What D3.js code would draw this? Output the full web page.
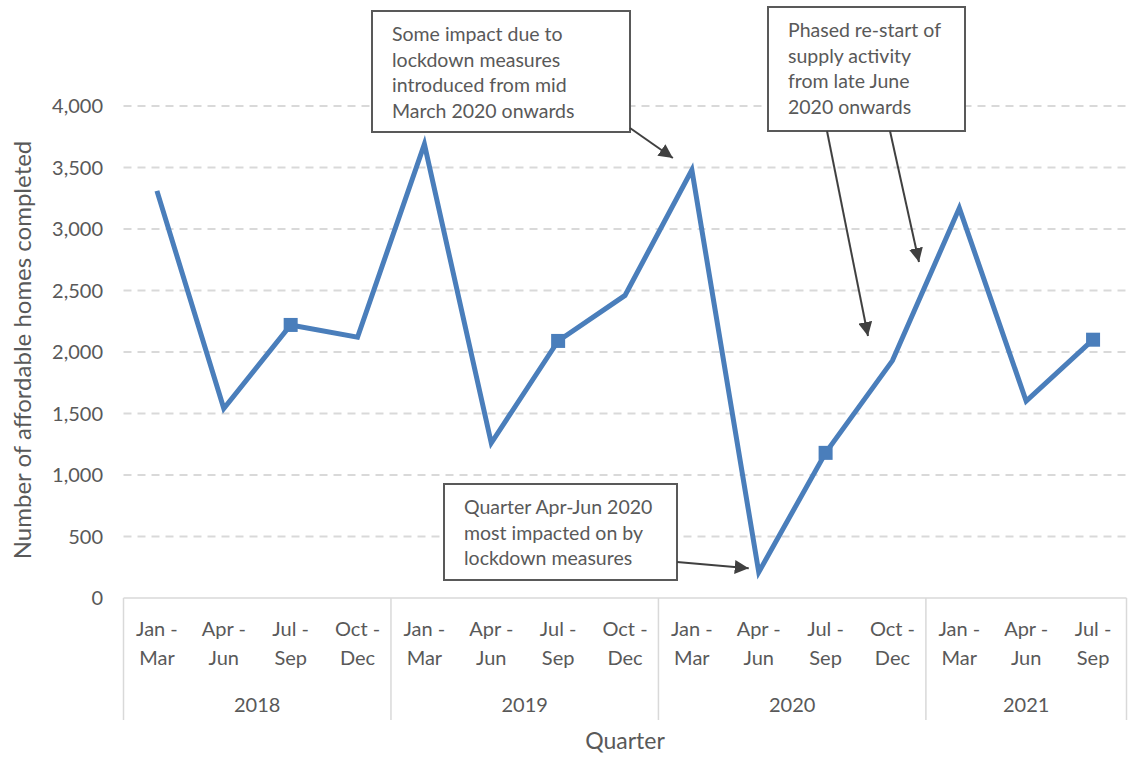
<!DOCTYPE html>
<html>
<head>
<meta charset="utf-8">
<title>Affordable homes completed</title>
<script src="https://d3js.org/d3.v7.min.js"></script>
<style>
  body { margin: 0; background: #fff; }
  svg text { font-family: Lato, "Open Sans", sans-serif; fill: #595959; }
</style>
</head>
<body>
<div id="root"></div>
<script>
// data
var quarters = ["Jan - Mar", "Apr - Jun", "Jul - Sep", "Oct - Dec",
                "Jan - Mar", "Apr - Jun", "Jul - Sep", "Oct - Dec",
                "Jan - Mar", "Apr - Jun", "Jul - Sep", "Oct - Dec",
                "Jan - Mar", "Apr - Jun", "Jul - Sep"];
var years = ["2018", "2019", "2020", "2021"];
var quartersPerYear = [4, 4, 4, 3];
var completed = [3310, 1540, 2220, 2120, 3690, 1260, 2090, 2460,
                 3480, 210, 1180, 1930, 3170, 1600, 2100];
var markerIdx = [2, 6, 10, 14];
var yTicks = [0, 500, 1000, 1500, 2000, 2500, 3000, 3500, 4000];

var width = 1128, height = 764;
var plotLeft = 123.5, plotRight = 1126.5, plotTop = 106, plotBottom = 598;

var svg = d3.select("#root").append("svg")
  .attr("width", width).attr("height", height);

// arrow head
svg.append("defs").append("marker")
  .attr("id", "arrow")
  .attr("viewBox", "0 0 10 10")
  .attr("refX", 10).attr("refY", 5)
  .attr("markerWidth", 7).attr("markerHeight", 7)
  .attr("markerUnits", "strokeWidth")
  .attr("orient", "auto")
  .append("path").attr("d", "M0,0 L10,5 L0,10 z").attr("fill", "#404040");

var idx = d3.range(quarters.length);
var x = d3.scalePoint().domain(idx).range([plotLeft, plotRight]).padding(0.5);
var step = x.step();
var y = d3.scaleLinear().domain([0, 4000]).range([plotBottom, plotTop]);

// gridlines
svg.append("g").selectAll("line")
  .data(yTicks.filter(function(d) { return d > 0; }))
  .enter().append("line")
    .attr("x1", plotLeft).attr("x2", plotRight)
    .attr("y1", function(d) { return y(d); })
    .attr("y2", function(d) { return y(d); })
    .attr("stroke", "#d9d9d9").attr("stroke-width", 2)
    .attr("stroke-dasharray", "8,6");

// y tick labels
svg.append("g").selectAll("text")
  .data(yTicks)
  .enter().append("text")
    .attr("x", 103)
    .attr("y", function(d) { return y(d); })
    .attr("dy", "0.35em")
    .attr("text-anchor", "end")
    .style("font-size", "20px")
    .text(d3.format(","));

// y axis title
svg.append("text")
  .attr("transform", "translate(31," + ((plotTop + plotBottom) / 2 - 2) + ") rotate(-90)")
  .attr("text-anchor", "middle")
  .style("font-size", "24px")
  .text("Number of affordable homes completed");

// category axis box
var axisG = svg.append("g");
axisG.append("line")
  .attr("x1", plotLeft).attr("x2", plotRight)
  .attr("y1", plotBottom).attr("y2", plotBottom)
  .attr("stroke", "#d9d9d9").attr("stroke-width", 1.5);

var bounds = [0];
quartersPerYear.forEach(function(n, i) { bounds.push(bounds[i] + n); });
axisG.selectAll(".sep")
  .data(bounds)
  .enter().append("line")
    .attr("x1", function(d) { return plotLeft + d * step; })
    .attr("x2", function(d) { return plotLeft + d * step; })
    .attr("y1", plotBottom).attr("y2", 720)
    .attr("stroke", "#d9d9d9").attr("stroke-width", 1.5);

var qLabels = axisG.selectAll(".q")
  .data(idx)
  .enter().append("text")
    .attr("text-anchor", "middle")
    .style("font-size", "20px");
qLabels.append("tspan")
  .attr("x", function(d) { return x(d); })
  .attr("y", 636)
  .text(function(d) { return quarters[d].split(" - ")[0] + " -"; });
qLabels.append("tspan")
  .attr("x", function(d) { return x(d); })
  .attr("y", 665)
  .text(function(d) { return quarters[d].split(" - ")[1]; });

axisG.selectAll(".yr")
  .data(years)
  .enter().append("text")
    .attr("x", function(d, i) { return plotLeft + (bounds[i] + bounds[i + 1]) / 2 * step; })
    .attr("y", 712)
    .attr("text-anchor", "middle")
    .style("font-size", "20px")
    .text(function(d) { return d; });

svg.append("text")
  .attr("x", (plotLeft + plotRight) / 2)
  .attr("y", 749)
  .attr("text-anchor", "middle")
  .style("font-size", "23px")
  .text("Quarter");

// line
var line = d3.line()
  .x(function(d, i) { return x(i); })
  .y(function(d) { return y(d); });

svg.append("path")
  .datum(completed)
  .attr("d", line)
  .attr("fill", "none")
  .attr("stroke", "#4a7ebb")
  .attr("stroke-width", 5)
  .attr("stroke-linejoin", "miter");

svg.append("g").selectAll("rect")
  .data(markerIdx)
  .enter().append("rect")
    .attr("x", function(d) { return x(d) - 7; })
    .attr("y", function(d) { return y(completed[d]) - 7; })
    .attr("width", 14).attr("height", 14)
    .attr("fill", "#4a7ebb");

// annotations
var notes = [
  { box: [372, 11, 258, 121], lines: ["Some impact due to", "lockdown measures", "introduced from mid", "March 2020 onwards"],
    arrows: [[630, 128, x(8) - 19, y(completed[8]) - 12]] },
  { box: [768, 7, 197, 124], lines: ["Phased re-start of", "supply activity", "from late June", "2020 onwards"],
    arrows: [[827, 131, 868, 336], [890, 131, 919, 262]] },
  { box: [444, 484, 233, 96], lines: ["Quarter Apr-Jun 2020", "most impacted on by", "lockdown measures"],
    arrows: [[677, 562, x(9) - 10, y(completed[9]) - 4]] }
];

notes.forEach(function(n) {
  var g = svg.append("g");
  g.append("rect")
    .attr("x", n.box[0]).attr("y", n.box[1])
    .attr("width", n.box[2]).attr("height", n.box[3])
    .attr("fill", "#fff").attr("stroke", "#595959").attr("stroke-width", 2);
  g.selectAll("text").data(n.lines).enter().append("text")
    .attr("x", n.box[0] + 20)
    .attr("y", function(d, i) { return n.box[1] + 30 + i * 25.5; })
    .style("font-size", "19.5px")
    .text(function(d) { return d; });
  n.arrows.forEach(function(a) {
    svg.append("line")
      .attr("x1", a[0]).attr("y1", a[1])
      .attr("x2", a[2]).attr("y2", a[3])
      .attr("stroke", "#404040").attr("stroke-width", 2)
      .attr("marker-end", "url(#arrow)");
  });
});
</script>
</body>
</html>
